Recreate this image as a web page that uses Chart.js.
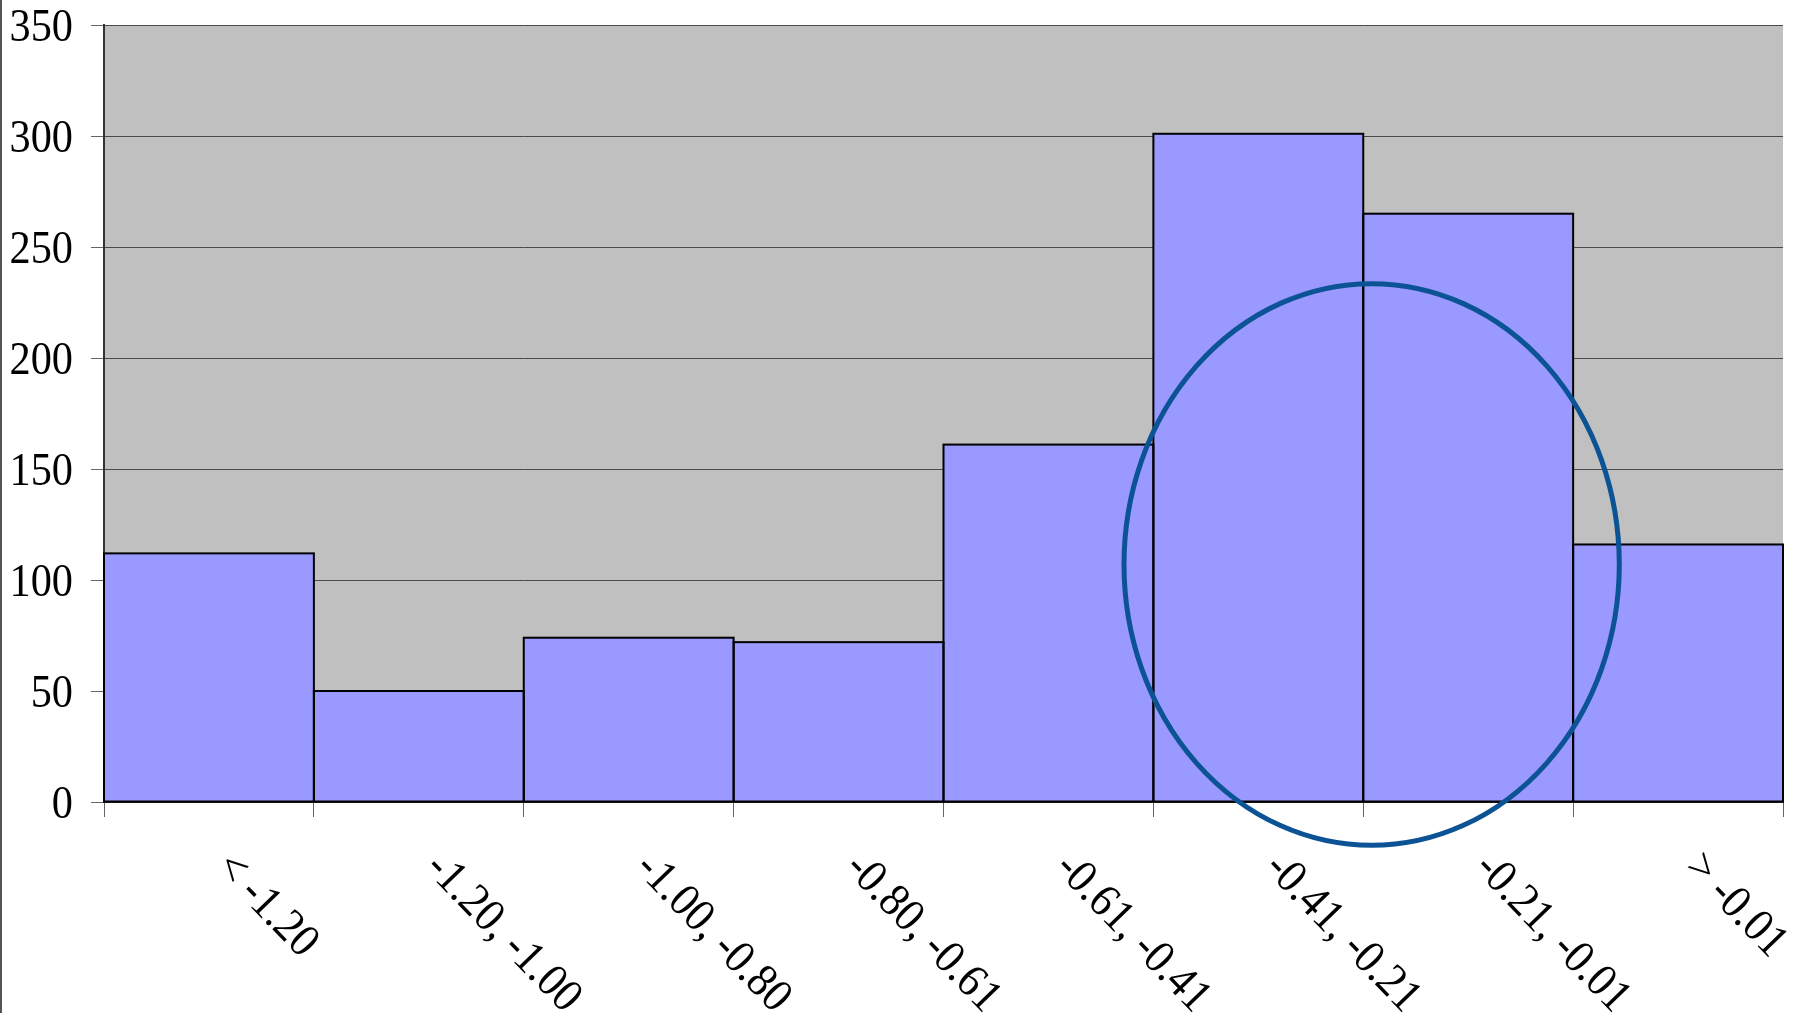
<!DOCTYPE html>
<html>
<head>
<meta charset="utf-8">
<script src="https://cdn.jsdelivr.net/npm/chart.js@4/dist/chart.umd.min.js"></script>
<style>
  html, body { margin: 0; padding: 0; background: #fff; overflow: hidden; }
  canvas { display: block; }
</style>
</head>
<body>
<canvas id="chart" width="1793" height="1013"></canvas>
<script>
// Histogram bins and counts
const binLabels = ['< -1.20', '-1.20, -1.00', '-1.00, -0.80', '-0.80, -0.61',
                   '-0.61, -0.41', '-0.41, -0.21', '-0.21, -0.01', '> -0.01'];
const binCounts = [112, 50, 74, 72, 161, 301, 265, 116];
const yTickValues = [0, 50, 100, 150, 200, 250, 300, 350];

// Highlight ring around the peak, in axis units (category index, count)
const ringCenter = [5.54, 107];
const ringRadius = [1.18, 126.5];

const LABEL_FONT = '47px "Liberation Serif", "Times New Roman", serif';
const LABEL_SQUEEZE = 0.9;
const BIN_LABEL_SQUEEZE = 0.92;
const LABEL_ANGLE = 46;

const decor = {
  id: 'decor',
  beforeDraw(chart) {
    const { ctx, chartArea: a } = chart;
    ctx.save();
    ctx.fillStyle = '#ffffff';
    ctx.fillRect(0, 0, chart.width, chart.height);
    ctx.fillStyle = '#c0c0c0';
    ctx.fillRect(a.left, a.top, a.right - a.left, a.bottom - a.top);
    ctx.restore();
  },
  afterDatasetsDraw(chart) {
    // outline each bar with a centred stroke so shared edges stay one line thick
    const { ctx } = chart;
    ctx.save();
    ctx.strokeStyle = '#000000';
    ctx.lineWidth = 2;
    chart.getDatasetMeta(0).data.forEach(bar => {
      const { x, y, base, width } = bar.getProps(['x', 'y', 'base', 'width'], true);
      ctx.strokeRect(x - width / 2, y, width, base - y);
    });
    ctx.restore();
  },
  afterDraw(chart) {
    const { ctx, scales: { x, y } } = chart;
    ctx.save();

    // thin frame on the left edge
    ctx.fillStyle = '#555555';
    ctx.fillRect(0, 0, 2, chart.height);

    ctx.font = LABEL_FONT;
    ctx.fillStyle = '#000000';
    ctx.textBaseline = 'alphabetic';

    // value axis labels
    ctx.textAlign = 'right';
    yTickValues.forEach(v => {
      const py = y.getPixelForValue(v);
      ctx.save();
      ctx.translate(73, py + 16);
      ctx.scale(LABEL_SQUEEZE, 1);
      ctx.fillText(String(v), 0, 0);
      ctx.restore();
    });

    // slanted bin labels
    ctx.textAlign = 'left';
    binLabels.forEach((t, i) => {
      const px = x.getPixelForValue(i);
      ctx.save();
      ctx.translate(px + 5, 869);
      ctx.rotate(LABEL_ANGLE * Math.PI / 180);
      ctx.scale(BIN_LABEL_SQUEEZE, 1);
      ctx.fillText(t, 0, 0);
      ctx.restore();
    });

    // ring
    const cx = x.getPixelForValue(ringCenter[0]);
    const cy = y.getPixelForValue(ringCenter[1]);
    const rx = x.getPixelForValue(ringCenter[0] + ringRadius[0]) - cx;
    const ry = cy - y.getPixelForValue(ringCenter[1] + ringRadius[1]);
    ctx.beginPath();
    ctx.ellipse(cx, cy, rx, ry, 0, 0, Math.PI * 2);
    ctx.strokeStyle = '#0b5394';
    ctx.lineWidth = 5;
    ctx.stroke();

    ctx.restore();
  }
};

new Chart(document.getElementById('chart'), {
  type: 'bar',
  data: {
    labels: binLabels,
    datasets: [{
      data: binCounts,
      backgroundColor: '#9999ff',
      borderWidth: 0,
      barPercentage: 1,
      categoryPercentage: 1
    }]
  },
  options: {
    responsive: false,
    animation: false,
    devicePixelRatio: 1,
    layout: { padding: { top: 25, right: 10, left: 0, bottom: 0 } },
    plugins: { legend: { display: false }, tooltip: { enabled: false } },
    scales: {
      x: {
        offset: true,
        grid: {
          display: true, offset: true, drawOnChartArea: false,
          drawTicks: true, tickLength: 15, tickColor: '#666666', color: '#666666'
        },
        border: { display: true, color: '#222222', width: 2 },
        ticks: { display: false },
        afterFit(scale) { scale.height = 1013 - 802; }
      },
      y: {
        min: 0, max: 350,
        ticks: { display: false, stepSize: 50 },
        grid: {
          color: '#4a4a4a', lineWidth: 1,
          drawTicks: true, tickLength: 13, tickColor: '#666666'
        },
        border: { display: true, color: '#333333', width: 2 },
        afterFit(scale) { scale.width = 104; }
      }
    }
  },
  plugins: [decor]
});
</script>
</body>
</html>
